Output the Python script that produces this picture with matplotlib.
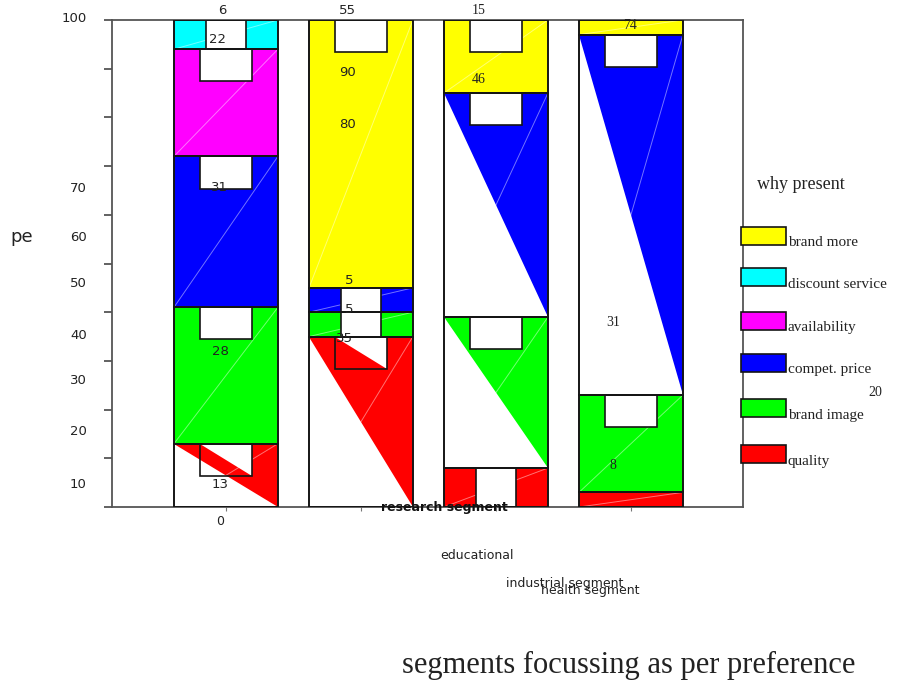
import numpy as np
import matplotlib
matplotlib.use("Agg")
import matplotlib.pyplot as plt
from matplotlib.patches import Rectangle, Polygon

# stack order, bottom to top
reasons = ['quality', 'brand image', 'compet. price', 'availability',
           'discount service', 'brand more']
colors = ['#ff0000', '#00ff00', '#0000ff', '#ff00ff', '#00ffff', '#ffff00']

quality = [13, 35, 8, 3]
brand_image = [28, 5, 31, 20]
compet_price = [31, 5, 46, 74]
availability = [22, 0, 0, 0]
discount_service = [6, 0, 0, 0]
brand_more = [0, 55, 15, 3]

x_labels = ['0', 'research segment', 'educational', 'industrial segment', 'health segment']
y_labels = ['100', '70', '60', '50', '40', '30', '20', '10']

series = [quality, brand_image, compet_price, availability, discount_service, brand_more]
# (bar, series) pairs that come out as a half-filled triangle
half_drawn = {(0, 0), (1, 0), (2, 1), (2, 2), (3, 2)}

fig = plt.figure(figsize=(9.07, 6.83), dpi=100)
ax = fig.add_axes([112 / 907, 1 - 507 / 683, 631 / 907, 487 / 683])

x = np.arange(4)
w = 0.77
edge = '#151515'
bottom = np.zeros(4)
for k, vals in enumerate(series):
    for i in range(4):
        v = vals[i]
        if v == 0:
            continue
        b, t = bottom[i], bottom[i] + v
        x0, x1 = x[i] - w / 2, x[i] + w / 2
        ax.add_patch(Rectangle((x0, b), w, v, facecolor='white', edgecolor='none', zorder=2))
        if (i, k) in half_drawn:
            ax.add_patch(Polygon([(x0, t), (x1, t), (x1, b)], closed=True,
                                 facecolor=colors[k], edgecolor='none', zorder=2.1))
        else:
            ax.add_patch(Rectangle((x0, b), w, v, facecolor=colors[k], edgecolor='none', zorder=2.1))
        # faint diagonal streak
        ax.plot([x0, x1], [b, t], color='white', lw=0.7, alpha=0.45, zorder=2.2)
        # white label box near top of segment
        if v >= 4:
            if v < 9:
                bw, bh = 0.29, v
            else:
                bw, bh = 0.39, 6.6
            bx0, bx1 = x[i] - bw / 2, x[i] + bw / 2
            if (i, k) in half_drawn and k == 0:
                ax.add_patch(Polygon([(bx0, t), (bx1, t), (bx1, t - bh)], closed=True,
                                     facecolor='white', edgecolor='none', zorder=3))
            else:
                ax.add_patch(Rectangle((bx0, t - bh), bw, bh, facecolor='white',
                                       edgecolor='none', zorder=3))
            ax.add_patch(Rectangle((bx0, t - bh), bw, bh, fill=False, edgecolor=edge,
                                   lw=1.2, zorder=3.1))
        ax.add_patch(Rectangle((x0, b), w, v, fill=False, edgecolor=edge, lw=1.4, zorder=4))
    bottom += np.array(vals, float)

ax.set_xlim(-0.844, 3.83)
ax.set_ylim(0, 100)
ax.set_yticks(np.arange(0, 101, 10))
ax.set_yticklabels([])
ax.tick_params(axis='y', direction='out', length=6, width=1.3, color='#555555')
ax.set_xticks(x)
ax.set_xticklabels([])
ax.tick_params(axis='x', direction='out', length=3, width=0.8, color='#777777')
for s in ax.spines.values():
    s.set_color('#555555')
    s.set_linewidth(1.3)

# y labels sit a bit below their ticks (as in the original)
ytr = ax.get_yaxis_transform()
for lab, yv in zip(y_labels, [100.3, 65.5, 55.4, 45.8, 35.3, 25.9, 15.6, 4.7]):
    ax.text(-0.04, yv, lab, transform=ytr, ha='right', va='center', fontsize=9.5,
            color='#222222')
fig.text(22 / 907, 1 - 237 / 683, 'pe', ha='center', va='center', fontsize=13, color='#222222')

# value labels scattered over the bars
sans_labels = [(-0.03, 102, '6'), (-0.06, 95.9, '22'), (-0.05, 65.7, '31'), (-0.04, 32, '28'),
               (-0.04, 4.7, '13'), (0.9, 102, '55'), (0.9, 89.3, '90'), (0.9, 78.6, '80'),
               (0.91, 46.6, '5'), (0.91, 40.5, '5'), (0.88, 34.5, '35')]
for xv, yv, s in sans_labels:
    ax.text(xv, yv, s, ha='center', va='center', fontsize=9.5, color='#222222', zorder=5)
serif_labels = [(1.87, 102, '15'), (1.87, 87.7, '46'), (2.99, 98.8, '74'),
                (2.87, 37.8, '31'), (2.87, 8.6, '8'), (4.81, 23.6, '20')]
for xv, yv, s in serif_labels:
    ax.text(xv, yv, s, ha='center', va='center', fontsize=10, family='Liberation Serif',
            color='#222222', zorder=5, clip_on=False)

# category labels, overlapping like the source
ax.text(-0.04, -3.0, x_labels[0], ha='center', va='center', fontsize=9, color='#222222')
ax.text(1.62, -0.2, x_labels[1], ha='center', va='center', fontsize=9, color='#111111',
        fontweight='bold')
ax.text(1.86, -9.9, x_labels[2], ha='center', va='center', fontsize=9, color='#222222')
ax.text(2.51, -15.8, x_labels[3], ha='center', va='center', fontsize=9, color='#222222')
ax.text(2.70, -17.2, x_labels[4], ha='center', va='center', fontsize=9, color='#222222')

fig.text(629 / 907, 1 - 665 / 683, 'segments focussing as per preference', ha='center',
         va='center', fontsize=22, family='Liberation Serif', color='#222222')

# legend drawn by hand, top to bottom
fig.text(757 / 907, 1 - 185 / 683, 'why present', ha='left', va='center', fontsize=13,
         family='Liberation Serif', color='#222222')
leg_y = [236, 277, 321, 363, 408, 454]
for j, k in enumerate(range(len(reasons) - 1, -1, -1)):
    py = leg_y[j]
    fig.add_artist(Rectangle((741 / 907, 1 - (py + 9) / 683), 45 / 907, 18 / 683,
                             facecolor=colors[k], edgecolor=edge, lw=1.2,
                             transform=fig.transFigure))
    fig.text(788 / 907, 1 - (py + 7) / 683, reasons[k], ha='left', va='center', fontsize=11,
             family='Liberation Serif', color='#222222')

fig.savefig('out.png', dpi=100)
